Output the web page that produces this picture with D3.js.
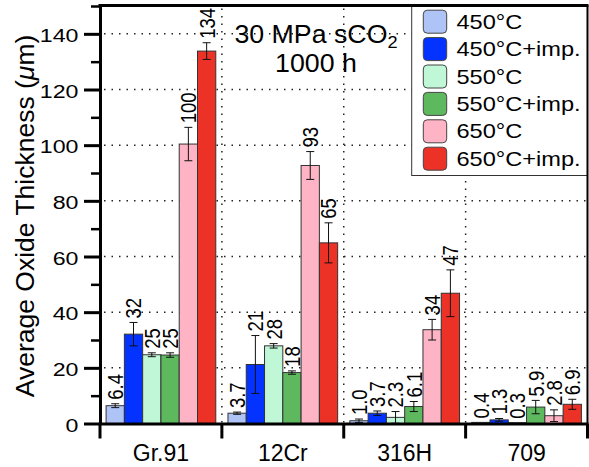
<!DOCTYPE html>
<html>
<head>
<meta charset="utf-8">
<script src="https://cdn.jsdelivr.net/npm/d3@7"></script>
<style>
  html, body { margin: 0; padding: 0; background: #ffffff; }
  svg { display: block; font-family: "Liberation Sans", Arial, Helvetica, sans-serif; }
</style>
</head>
<body>
<script>
// ---------------- data ----------------
const groups = ["Gr.91", "12Cr", "316H", "709"];
const series = ["450°C", "450°C+imp.", "550°C", "550°C+imp.", "650°C", "650°C+imp."];
const seriesColors = ["#aec3f6", "#0433ff", "#bff7d7", "#5db85e", "#ffb4c5", "#ec3126"];

const valuesGr91 = [6.4, 32.1, 24.7, 24.6, 100.4, 133.8];
const errorsGr91 = [0.7, 4.2, 0.7, 0.8, 6.0, 3.0];
const labelsGr91 = ["6.4", "32", "25", "25", "100", "134"];

const values12Cr = [3.7, 21.2, 27.9, 18.3, 92.7, 64.9];
const errors12Cr = [0.4, 10.4, 0.8, 0.6, 5.0, 7.2];
const labels12Cr = ["3.7", "21", "28", "18", "93", "65"];

const values316H = [1.0, 3.7, 2.2, 6.1, 33.7, 46.8];
const errors316H = [0.6, 0.8, 2.1, 1.8, 3.7, 8.4];
const labels316H = ["1.0", "3.7", "2.3", "6.1", "34", "47"];

const values709 = [0.4, 1.3, 0.3, 5.9, 2.8, 6.9];
const errors709 = [0, 0.5, 0, 2.4, 2.1, 1.8];
const labels709 = ["0.4", "1.3", "0.3", "5.9", "2.8", "6.9"];

const yMajorTicks = [0, 20, 40, 60, 80, 100, 120, 140];
const yMinorTicks = [10, 30, 50, 70, 90, 110, 130, 150];
const yTitle = "Average Oxide Thickness (";
const titleLine1 = "30 MPa sCO";
const titleLine2 = "1000 h";

// build table for the library
const groupValues = [valuesGr91, values12Cr, values316H, values709];
const groupErrors = [errorsGr91, errors12Cr, errors316H, errors709];
const groupLabels = [labelsGr91, labels12Cr, labels316H, labels709];
const table = [];
groups.forEach((g, gi) => {
  series.forEach((s, si) => {
    table.push({ group: g, series: s, si: si,
      value: groupValues[gi][si], err: groupErrors[gi][si], label: groupLabels[gi][si] });
  });
});

// ---------------- layout ----------------
const W = 589, H = 467;
const plotL = 100, plotR = 587.5, plotT = 5.5;
const svg = d3.select("body").append("svg").attr("width", W).attr("height", H);

const y = d3.scaleLinear().domain([0, 150]).range([423.5, 6]);
const x0 = d3.scaleBand().domain(groups).range([plotL, plotR]).paddingInner(0).paddingOuter(0);
const x1 = d3.scaleBand().domain(series).range([0, x0.bandwidth()]).paddingInner(0).paddingOuter(0.333);
const color = d3.scaleOrdinal().domain(series).range(seriesColors);

// ---------------- grid (dotted) ----------------
const grid = svg.append("g").attr("stroke", "#222").attr("stroke-width", 1.5)
  .attr("stroke-dasharray", "1.5 6");
grid.selectAll("line.h").data(yMajorTicks.filter(t => t > 0)).join("line")
  .attr("class", "h")
  .attr("x1", plotL + 4).attr("x2", plotR)
  .attr("y1", d => y(d)).attr("y2", d => y(d));
grid.selectAll("line.v").data(groups.slice(1)).join("line")
  .attr("class", "v")
  .attr("x1", d => x0(d)).attr("x2", d => x0(d))
  .attr("y1", plotT + 3).attr("y2", y(0));

// ---------------- bars ----------------
const bars = svg.append("g");
bars.selectAll("rect").data(table).join("rect")
  .attr("x", d => x0(d.group) + x1(d.series))
  .attr("y", d => y(d.value))
  .attr("width", x1.bandwidth())
  .attr("height", d => y(0) - y(d.value))
  .attr("fill", d => color(d.series))
  .attr("stroke", "#333")
  .attr("stroke-width", 1);

// error bars
const eb = svg.append("g").attr("stroke", "#111").attr("stroke-width", 1);
const withErr = table.filter(d => d.err > 0);
const cx = d => x0(d.group) + x1(d.series) + x1.bandwidth() / 2;
eb.selectAll("line.stem").data(withErr).join("line").attr("class", "stem")
  .attr("x1", cx).attr("x2", cx)
  .attr("y1", d => y(d.value + d.err)).attr("y2", d => y(Math.max(0, d.value - d.err)));
eb.selectAll("line.top").data(withErr).join("line").attr("class", "top")
  .attr("x1", d => cx(d) - 4).attr("x2", d => cx(d) + 4)
  .attr("y1", d => y(d.value + d.err)).attr("y2", d => y(d.value + d.err));
eb.selectAll("line.bot").data(withErr.filter(d => d.value - d.err > 0)).join("line").attr("class", "bot")
  .attr("x1", d => cx(d) - 4).attr("x2", d => cx(d) + 4)
  .attr("y1", d => y(d.value - d.err)).attr("y2", d => y(d.value - d.err));

// value labels (rotated)
svg.append("g").selectAll("text").data(table).join("text")
  .attr("transform", d => `translate(${cx(d)},${y(d.value + d.err) - 4}) scale(1.22,1) rotate(-90)`)
  .attr("dy", "0.35em")
  .attr("font-size", 18.5)
  .attr("fill", "#000")
  .text(d => d.label);

// ---------------- title ----------------
const t1 = svg.append("text").attr("transform", "translate(316,43) scale(1.07,1)")
  .attr("text-anchor", "middle").attr("font-size", 25).attr("fill", "#000");
t1.append("tspan").text(titleLine1);
t1.append("tspan").attr("font-size", 17).attr("dy", 5).text("2");
svg.append("text").attr("transform", "translate(316,72) scale(1.07,1)")
  .attr("text-anchor", "middle").attr("font-size", 25).attr("fill", "#000").text(titleLine2);

// ---------------- legend ----------------
const leg = svg.append("g");
leg.append("rect").attr("x", 411.7).attr("y", plotT).attr("width", plotR - 411.7).attr("height", 170)
  .attr("fill", "#fff").attr("stroke", "#333").attr("stroke-width", 1);
const legRow = d3.scalePoint().domain(series).range([21.7, 158.7]);
const li = leg.selectAll("g.item").data(series).join("g").attr("class", "item");
li.append("rect").attr("x", 423.3).attr("y", d => legRow(d) - 11.5)
  .attr("width", 23.4).attr("height", 23).attr("rx", 4)
  .attr("fill", d => color(d)).attr("stroke", "#444").attr("stroke-width", 1);
li.append("text").attr("transform", d => `translate(456.5,${legRow(d) + 7}) scale(1.18,1)`)
  .attr("font-size", 20).attr("fill", "#000").text(d => d);

// ---------------- axes ----------------
// minor y ticks
const minorAxis = svg.append("g").attr("transform", `translate(${plotL},0)`)
  .call(d3.axisLeft(y).tickValues(yMinorTicks).tickSize(9).tickSizeOuter(0).tickFormat(""));
minorAxis.select(".domain").remove();
minorAxis.selectAll(".tick line").attr("stroke", "#000").attr("stroke-width", 2.5);

// major y axis
const yAxis = svg.append("g").attr("transform", `translate(${plotL},0)`)
  .call(d3.axisLeft(y).tickValues(yMajorTicks).tickSize(16).tickSizeOuter(0));
yAxis.select(".domain").attr("stroke", "#000").attr("stroke-width", 3);
yAxis.selectAll(".tick line").attr("stroke", "#000").attr("stroke-width", 3);
yAxis.selectAll(".tick text")
  .attr("x", null).attr("dy", "0.41em")
  .attr("transform", "translate(-21.5,0) scale(1.22,1)")
  .attr("font-size", 19).attr("fill", "#000").attr("font-family", null);
yAxis.attr("font-family", null);

// bottom axis (category labels)
const xAxis = svg.append("g").attr("transform", `translate(0,${y(0) + 0.5})`)
  .call(d3.axisBottom(x0).tickSize(0).tickSizeOuter(0));
xAxis.select(".domain").remove();
xAxis.attr("font-family", null);
xAxis.selectAll(".tick text").attr("y", 37).attr("dy", 0)
  .attr("font-size", 23).attr("fill", "#000");

// bottom axis line and boundary ticks
svg.append("line").attr("x1", plotL - 1.5).attr("x2", plotR + 1)
  .attr("y1", y(0) + 0.5).attr("y2", y(0) + 0.5).attr("stroke", "#000").attr("stroke-width", 3);
const bounds = groups.map(g => x0(g)).concat([x0.range()[1]]);
svg.append("g").selectAll("line").data(bounds).join("line")
  .attr("x1", d => d).attr("x2", d => d)
  .attr("y1", y(0)).attr("y2", 438.5)
  .attr("stroke", "#000").attr("stroke-width", 3);

// frame: top and right
svg.append("line").attr("x1", plotL - 1.5).attr("x2", plotR + 1)
  .attr("y1", plotT).attr("y2", plotT).attr("stroke", "#000").attr("stroke-width", 3);
svg.append("line").attr("x1", plotR).attr("x2", plotR)
  .attr("y1", plotT).attr("y2", y(0)).attr("stroke", "#000").attr("stroke-width", 2);

// y title
const yt = svg.append("text").attr("transform", "translate(33.5,216) rotate(-90)")
  .attr("text-anchor", "middle").attr("font-size", 26.5).attr("fill", "#000");
yt.append("tspan").text(yTitle);
yt.append("tspan").attr("font-style", "italic").text("\u03bc");
yt.append("tspan").text("m)");
</script>
</body>
</html>
